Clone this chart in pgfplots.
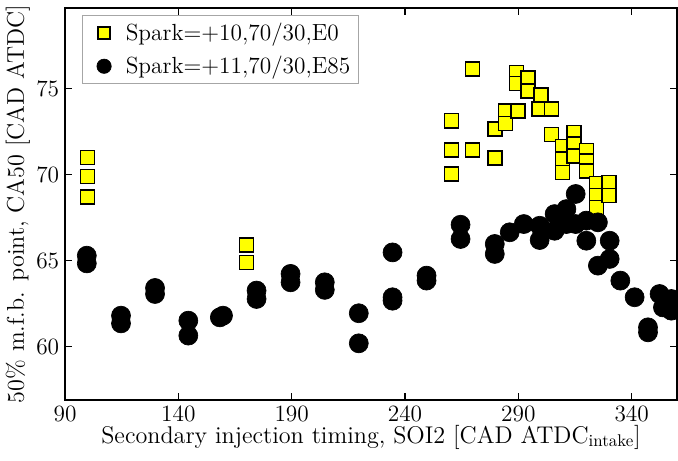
\documentclass[border=0pt]{standalone}
\usepackage{pgfplots}
\pgfplotsset{compat=1.18}
\definecolor{myyellow}{RGB}{255,255,0}
\pgfplotsset{
  legsq/.style={legend image code/.code={\draw[##1, mark size=3.6pt] plot coordinates {(0.36cm,0cm)};\path (0cm,0cm) (0.74cm,0cm);}},
  legci/.style={legend image code/.code={\draw[##1, mark size=4.3pt] plot coordinates {(0.36cm,0cm)};\path (0cm,0cm) (0.74cm,0cm);}},
}
\begin{document}
\begin{tikzpicture}
\useasboundingbox (-39pt,-36.6pt) rectangle (367.6pt,239.8pt);
\begin{axis}[
  at={(0,0)}, anchor=south west,
  scale only axis, width=367pt, height=235pt,
  xmin=90, xmax=360, ymin=56.9, ymax=79.7,
  xtick={90,140,190,240,290,340},
  ytick={60,65,70,75},
  tick align=inside,
  major tick length=4pt,
  axis line style={line width=1pt},
  every tick/.style={line width=0.8pt, black},
  tick label style={font=\fontsize{14}{16}\selectfont},
  /pgf/number format/assume math mode=true,
  xlabel={Secondary injection timing, SOI2 [CAD ATDC\textsubscript{intake}]},
  ylabel={50\% m.f.b. point, CA50 [CAD ATDC]},
  label style={font=\fontsize{14.5}{16}\selectfont},
  xlabel style={yshift=5pt},
  ylabel style={yshift=-3pt},
  legend style={at={(0.028,0.982)}, anchor=north west, draw=black!35,
    font=\fontsize{14}{16}\selectfont, row sep=4pt, inner sep=2.5pt},
  legend cell align=left,
]
\addplot[only marks, mark=square*, mark size=4.2pt,
  mark options={draw=black, fill=myyellow, line width=0.9pt}, legsq] table {
100 71.0
100 69.9
100 68.7
170 65.9
170 64.9
260.5 73.14
260.5 71.44
260.5 70.04
269.8 76.15
269.8 71.44
279.6 72.66
279.6 70.97
284.4 73.72
284.4 72.98
289.9 73.72
289.1 75.95
289.1 75.31
294.3 75.62
294.3 74.88
300 74.65
299.1 73.82
304.6 73.82
304.6 72.33
309.4 71.63
309.4 70.91
309.4 70.13
314.6 72.46
314.6 71.78
314.6 71.10
320 71.4
320 70.81
320 70.23
324.4 69.5
324.4 68.78
324.4 68.1
330 69.55
330 68.78
};
\addlegendentry{Spark=+10,70/30,E0}
\addplot[only marks, mark=*, mark size=5.7pt,
  mark options={draw=black, fill=black}, legci] table {
99.6 65.29
99.6 64.84
114.7 61.80
114.7 61.35
129.7 63.41
129.7 63.06
144.4 61.51
144.4 60.64
158.3 61.7
159.7 61.8
174.5 63.26
174.5 62.77
189.5 64.23
189.5 63.74
204.6 63.74
204.6 63.30
219.6 61.94
219.6 60.19
234.5 65.48
234.5 62.87
234.5 62.67
249.5 64.13
249.5 63.84
264.5 67.09
264.5 66.26
279.6 65.97
279.6 65.39
286.2 66.65
292.4 67.13
299.4 67.03
299.4 66.20
306 67.71
306 66.74
311.2 68.0
311.2 67.13
315.3 68.88
315.3 67.13
320 67.33
320 66.16
325.1 67.23
325.1 64.71
330.3 66.16
330.3 65.10
335 63.84
341.3 62.87
347.2 61.12
347.2 60.83
352.3 63.06
353.8 62.28
357.5 62.77
357.5 62.09
};
\addlegendentry{Spark=+11,70/30,E85}
\end{axis}
\end{tikzpicture}
\end{document}
